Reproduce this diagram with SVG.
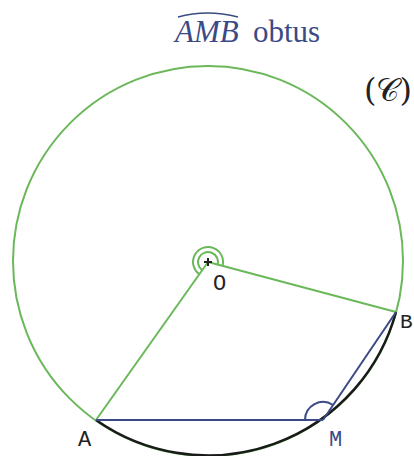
<svg xmlns="http://www.w3.org/2000/svg" width="414" height="456" viewBox="0 0 414 456">
<style>
.green{fill:none;stroke:#6ab85a;stroke-width:2}
.blue{fill:none;stroke:#3b4a86;stroke-width:2}
.black{fill:none;stroke:#1a1a1a;stroke-width:2.5}
.lbl{font-family:"Liberation Mono",monospace;font-size:22px;fill:#222}
.title{font-family:"Liberation Serif",serif;font-size:31px;fill:#3b4a86}
</style>
<rect width="414" height="456" fill="#fff"/>
<g id="circle">
<circle cx="208" cy="261" r="195" class="green"/>
<path d="M96,420 A195,195 0 0 0 396,312" class="black"/>
</g>
<g id="connectors">
<line x1="208" y1="262" x2="96" y2="420" class="green"/>
<line x1="208" y1="262" x2="396" y2="312" class="green"/>
<line x1="96" y1="420" x2="323" y2="420" class="blue"/>
<line x1="323" y1="420" x2="396" y2="312" class="blue"/>
</g>
<g id="angle-M">
<path d="M305,420 A18,18 0 0 1 333,405" class="blue"/>
</g>
<g id="angle-O">
<path d="M202.2,270.2 A10,10 0 1 1 217.7,264.6" class="green"/>
<path d="M199.3,274.2 A15,15 0 1 1 222.5,266" class="green"/>
</g>
<g id="O">
<path d="M204,262 H212 M208,258 V266" stroke="#222" stroke-width="2"/>
<text x="213" y="290" class="lbl">O</text>
</g>
<g id="A"><text x="78" y="446" class="lbl">A</text></g>
<g id="M"><text x="329" y="446" class="lbl" style="fill:#3b4a86">M</text></g>
<g id="B"><text x="400" y="328" class="lbl" style="font-size:21px">B</text></g>
<g id="title">
<text x="175" y="42" class="title" font-style="italic">AMB</text>
<path d="M178,17 Q207,9 238,17" fill="none" stroke="#3b4a86" stroke-width="1.5"/>
<text x="253" y="42" class="title">obtus</text>
</g>
<g id="C-label">
<text x="364" y="101" font-family="'DejaVu Serif',serif" font-size="32" fill="#222">(𝒞)</text>
</g>
</svg>
